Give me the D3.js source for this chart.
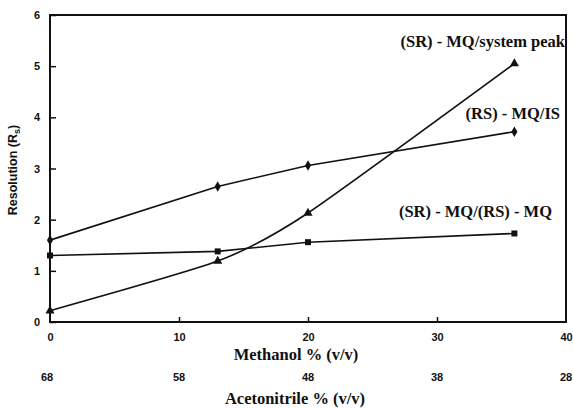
<!DOCTYPE html>
<html>
<head>
<meta charset="utf-8">
<script src="https://cdn.jsdelivr.net/npm/d3@7"></script>
<style>
	html, body { margin: 0; padding: 0; background: white; }
	svg { display: block; }
</style>
</head>
<body>
<script>
const SANS = "'Liberation Sans', Arial, sans-serif";
const SERIF = "'Liberation Serif', 'Times New Roman', serif";

// methanol % (v/v) at each measured point
const methanol = [0, 13, 20, 36];
// resolution values per pair
const systemPeak = [0.22, 1.19, 2.13, 5.05];
const mqIs = [1.6, 2.65, 3.06, 3.72];
const mqMq = [1.3, 1.38, 1.56, 1.73];

const methanolTicks = [0, 10, 20, 30, 40];
const acetonitrileTicks = [68, 58, 48, 38, 28];
const yTicks = [0, 1, 2, 3, 4, 5, 6];

const W = 573, H = 408;
const margin = { left: 50, right: 566, top: 15, bottom: 322 };

const svg = d3.select("body").append("svg")
	.attr("width", W)
	.attr("height", H);

const x = d3.scaleLinear().domain([0, 40]).range([margin.left, margin.right]);
const xAcn = d3.scaleLinear().domain([68, 28]).range([margin.left, margin.right]);
const y = d3.scaleLinear().domain([0, 6]).range([margin.bottom, margin.top]);

// frame
svg.append("rect")
	.attr("x", margin.left).attr("y", margin.top)
	.attr("width", margin.right - margin.left).attr("height", margin.bottom - margin.top)
	.attr("fill", "none")
	.attr("stroke", "#111")
	.attr("stroke-width", 2);

const styleNums = g => g.selectAll("text")
	.attr("fill", "#111")
	.attr("font-family", SANS)
	.attr("font-weight", "bold")
	.attr("font-size", 11);

// y axis: ticks pointing inward
const yAxis = d3.axisLeft(y).tickValues(yTicks).tickFormat(d3.format("d")).tickSize(-6).tickPadding(10);
svg.append("g")
	.attr("transform", `translate(${margin.left},0)`)
	.call(yAxis)
	.call(g => g.select(".domain").remove())
	.call(g => g.selectAll("line").attr("stroke", "#111").attr("stroke-width", 1.5))
	.call(styleNums);

// x axis (methanol): ticks pointing upward
const xAxis = d3.axisBottom(x).tickValues(methanolTicks).tickFormat(d3.format("d")).tickSize(-5).tickPadding(11);
svg.append("g")
	.attr("transform", `translate(0,${margin.bottom})`)
	.call(xAxis)
	.call(g => g.select(".domain").remove())
	.call(g => g.selectAll("line").attr("stroke", "#111").attr("stroke-width", 1.5)
		.attr("display", d => (d === 0 || d === 40) ? "none" : null))
	.call(styleNums);

// second scale (acetonitrile), labels only
svg.append("g")
	.selectAll("text")
	.data(acetonitrileTicks)
	.join("text")
	.attr("x", d => xAcn(d) - (d === 68 ? 3 : 0))
	.attr("y", 381)
	.attr("text-anchor", "middle")
	.text(d => d)
	.call(sel => sel.attr("fill", "#111").attr("font-family", SANS)
		.attr("font-weight", "bold").attr("font-size", 11));

const serifText = (sel, size) => sel
	.attr("fill", "#111")
	.attr("font-family", SERIF)
	.attr("font-weight", "bold")
	.attr("font-size", size);

svg.append("text")
	.attr("x", 296).attr("y", 360)
	.attr("text-anchor", "middle")
	.text("Methanol % (v/v)")
	.call(serifText, 16.5);

svg.append("text")
	.attr("x", 295).attr("y", 404)
	.attr("text-anchor", "middle")
	.text("Acetonitrile % (v/v)")
	.call(serifText, 16.5);

// y label
const yl = svg.append("text")
	.attr("transform", "translate(17,170) rotate(-90)")
	.attr("text-anchor", "middle")
	.attr("fill", "#111")
	.attr("font-family", SANS)
	.attr("font-weight", "bold")
	.attr("font-size", 12.5);
yl.append("tspan").text("Resolution (R");
yl.append("tspan").attr("font-size", 9).attr("dy", 3).text("s");
yl.append("tspan").attr("dy", -3).text(")");

// series
const series = [
	{ values: systemPeak, marker: d3.symbolTriangle, curve: d3.curveCardinal.tension(0.4) },
	{ values: mqIs, marker: d3.symbolDiamond, curve: d3.curveLinear },
	{ values: mqMq, marker: d3.symbolSquare, curve: d3.curveLinear }
];

series.forEach(s => {
	const pts = methanol.map((m, i) => [m, s.values[i]]);
	const line = d3.line()
		.x(d => x(d[0]))
		.y(d => y(d[1]))
		.curve(s.curve);
	svg.append("path")
		.attr("d", line(pts))
		.attr("fill", "none")
		.attr("stroke", "#111")
		.attr("stroke-width", 1.6);
	svg.append("g")
		.selectAll("path")
		.data(pts)
		.join("path")
		.attr("transform", d => `translate(${x(d[0])},${y(d[1])})`)
		.attr("d", d3.symbol().type(s.marker).size(s.marker === d3.symbolDiamond ? 32 : 36))
		.attr("fill", "#111");
});

// annotations
const notes = [
	{ text: "(SR) - MQ/system peak", x: 565, y: 47 },
	{ text: "(RS) - MQ/IS", x: 560, y: 119 },
	{ text: "(SR) - MQ/(RS) - MQ", x: 552, y: 217 }
];
svg.append("g")
	.selectAll("text")
	.data(notes)
	.join("text")
	.attr("x", d => d.x)
	.attr("y", d => d.y)
	.attr("text-anchor", "end")
	.text(d => d.text)
	.call(serifText, 16.5);
</script>
</body>
</html>
